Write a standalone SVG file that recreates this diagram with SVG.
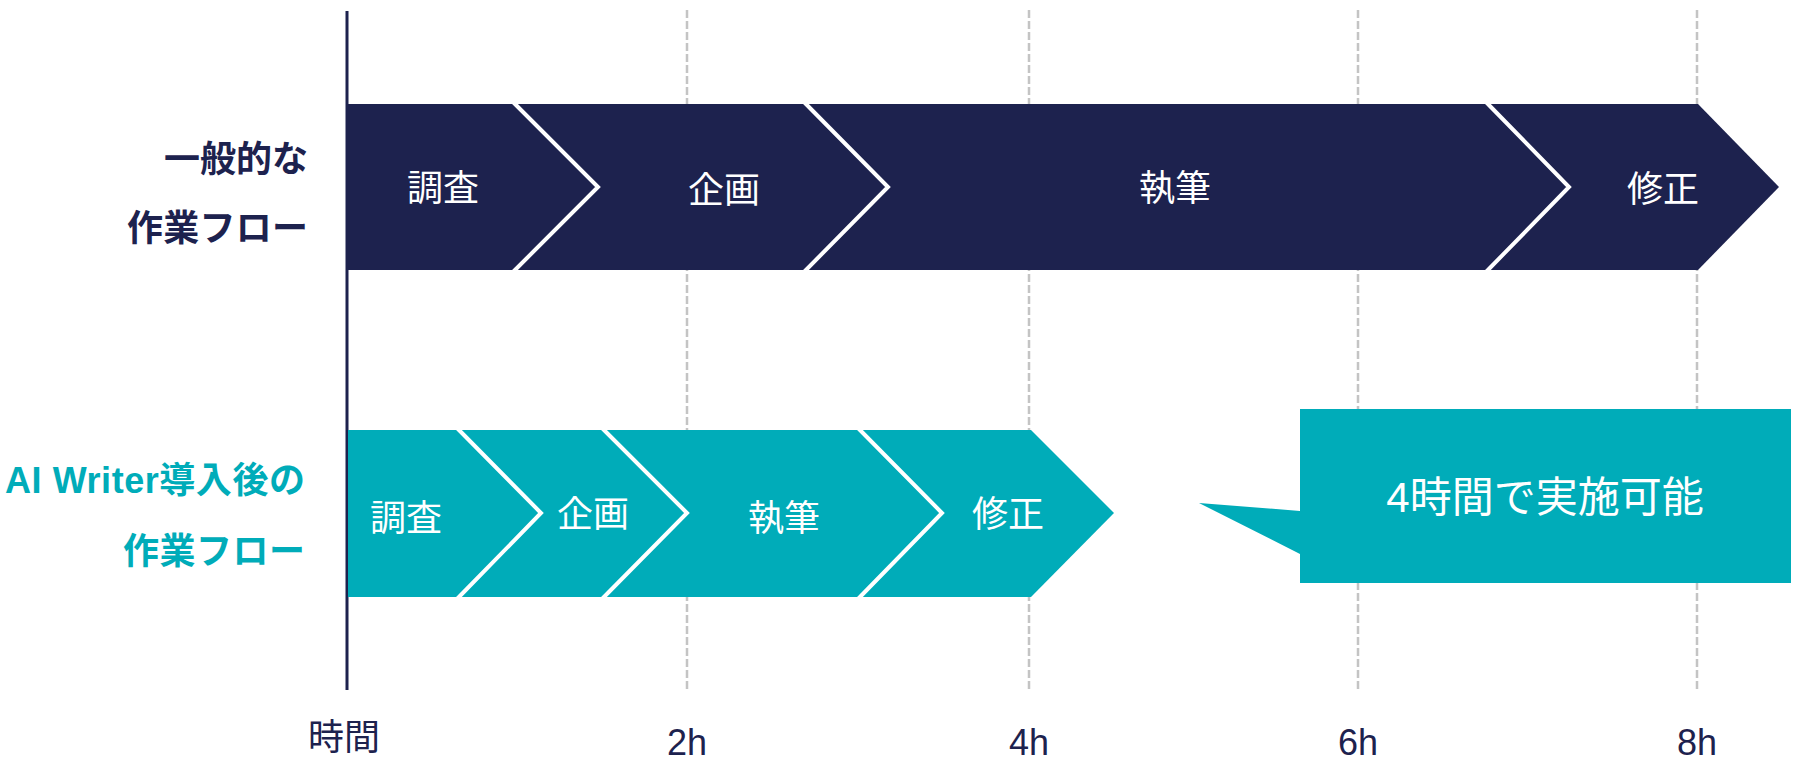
<svg xmlns="http://www.w3.org/2000/svg" width="1799" height="760" viewBox="0 0 1799 760">
<style>
.grid{stroke:#c4c4c4;stroke-width:2.5;stroke-dasharray:8 3;fill:none}
.navy{fill:#1d224e}
.teal{fill:#00acb9}
.sep{fill:none;stroke:#ffffff;stroke-width:4;stroke-linejoin:miter}
.lbl{font-family:"Liberation Sans","Noto Sans CJK JP",sans-serif;font-size:36px;fill:#ffffff;text-anchor:middle}
.side{font-family:"Liberation Sans","Noto Sans CJK JP",sans-serif;font-size:36px;font-weight:bold;text-anchor:end}
.axis{font-family:"Liberation Sans","Noto Sans CJK JP",sans-serif;font-size:36px;fill:#1d224e;text-anchor:middle}
</style>
<rect width="1799" height="760" fill="#ffffff"/>
<g id="grid">
<line class="grid" x1="687" y1="10" x2="687" y2="690"/>
<line class="grid" x1="1029" y1="10" x2="1029" y2="690"/>
<line class="grid" x1="1358" y1="10" x2="1358" y2="690"/>
<line class="grid" x1="1697" y1="10" x2="1697" y2="690"/>
</g>
<g id="connectors">
<line x1="347" y1="11" x2="347" y2="690" stroke="#1d224e" stroke-width="3"/>
</g>
<g id="label-general">
<text class="side" fill="#1d224e" x="308" y="172">一般的な</text>
<text class="side" fill="#1d224e" x="308" y="241" textLength="181" lengthAdjust="spacing">作業フロー</text>
</g>
<g id="label-ai">
<text class="side" fill="#00acb9" x="305" y="493" textLength="300" lengthAdjust="spacing">AI Writer導入後の</text>
<text class="side" fill="#00acb9" x="305" y="564" textLength="182" lengthAdjust="spacing">作業フロー</text>
</g>
<g id="flow-general">
<polygon class="navy" points="346,104 1698,104 1779,187 1698,270 346,270"/>
<polyline class="sep" points="513,102 598,187 513,272"/>
<polyline class="sep" points="804,102 888,187 804,272"/>
<polyline class="sep" points="1486,102 1569,187 1486,272"/>
<text class="lbl" x="443" y="201">調査</text>
<text class="lbl" x="724" y="203">企画</text>
<text class="lbl" x="1175" y="201">執筆</text>
<text class="lbl" x="1663" y="202">修正</text>
</g>
<g id="flow-ai">
<polygon class="teal" points="348,430 1031,430 1114,513 1031,597 348,597"/>
<polyline class="sep" points="457,428 541,513 457,599"/>
<polyline class="sep" points="602,428 687,513 602,599"/>
<polyline class="sep" points="858,428 942,513 858,599"/>
<text class="lbl" x="406" y="531">調査</text>
<text class="lbl" x="593" y="527">企画</text>
<text class="lbl" x="784" y="531">執筆</text>
<text class="lbl" x="1008" y="527">修正</text>
</g>
<g id="callout">
<path class="teal" d="M1300,409 H1791 V583 H1300 V554 L1199,503 L1300,511 Z"/>
<text x="1545" y="512" font-family="Liberation Sans,Noto Sans CJK JP,sans-serif" font-size="42" fill="#ffffff" text-anchor="middle">4時間で実施可能</text>
</g>
<g id="axis-labels">
<text class="axis" x="344" y="750">時間</text>
<text class="axis" x="687" y="755">2h</text>
<text class="axis" x="1029" y="755">4h</text>
<text class="axis" x="1358" y="755">6h</text>
<text class="axis" x="1697" y="755">8h</text>
</g>
</svg>
